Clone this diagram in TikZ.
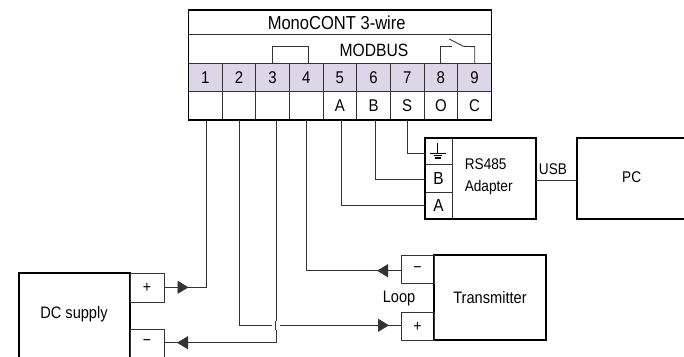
\documentclass[tikz,border=0pt]{standalone}
\usepackage{fontspec}
\setmainfont[FakeStretch=0.88]{Liberation Sans}
\usetikzlibrary{arrows.meta,decorations.markings}
\definecolor{termpurple}{HTML}{DDD6E8}
\definecolor{wiregray}{HTML}{333333}
\tikzset{
  x=1pt,y=-1pt,
  every node/.style={inner sep=0pt,outer sep=0pt},
  thickbox/.style={draw=black,line width=1.8pt,rectangle},
  cell/.style={draw=wiregray,line width=0.9pt,rectangle,minimum width=33.6pt,minimum height=28.5pt,font=\fontsize{17}{18}\selectfont},
  termcell/.style={cell,fill=termpurple},
  poscell/.style={draw=wiregray,line width=0.9pt,rectangle,minimum width=34pt,minimum height=28.5pt,font=\fontsize{16}{16}\selectfont},
  adcell/.style={draw=wiregray,line width=0.9pt,rectangle,minimum width=27.5pt,font=\fontsize{17.5}{18}\selectfont},
  wire/.style={draw=wiregray,line width=0.9pt},
  lab/.style={font=\fontsize{16.6}{17}\selectfont},
  smalllab/.style={font=\fontsize{15.5}{16}\selectfont},
  tipat/.style={postaction={decorate},decoration={markings,mark=at position #1 with {\arrow{Triangle[length=11pt,width=13pt]}}}}
}
\begin{document}
\begin{tikzpicture}
\useasboundingbox (0,0) rectangle (684,356);
% main unit
\node[draw=wiregray,line width=0.9pt,minimum width=303pt,minimum height=24.5pt,anchor=north west] (title) at (188.5,10) {};
\node[font=\fontsize{18.8}{19}\selectfont] (titlelabel) at (336.7,23) {MonoCONT 3-wire};
\node[anchor=center,font=\fontsize{17.8}{18}\selectfont] (modbus) at (374,50.5) {MODBUS};
\foreach \n/\t/\b [count=\i from 0] in {1//,2//,3//,4//,5/A/,6/B/,7/S/,8/O/,9/C/}{
  \node[termcell] (t\n) at ({205.3+33.65*\i},77.5) {\n};
  \node[cell] (b\n) at ({205.3+33.65*\i},106) {\t};
}
\node[thickbox,anchor=north west,minimum width=303pt,minimum height=110pt] (unit) at (188.5,10) {};
% bridge and relay symbols
\coordinate (bridgeL) at (272.3,46.7);
\coordinate (bridgeR) at (308.3,46.7);
\draw[wire] (bridgeL |- t3.north) -- (bridgeL) -- (bridgeR) -- (bridgeR |- t4.north);
\coordinate (swL) at (451.7,46.7);
\coordinate (swA) at (449.3,39);
\coordinate (swB) at (463.3,46.3);
\coordinate (swR) at (474.7,46.7);
\draw[wire] (440.7,63) -- (440.7,46.7) -- (swL);
\draw[wire] (swA) -- (swB);
\draw[wire] (swB) -- (swR) -- (swR |- t9.north);
% adapter
\node[thickbox,anchor=north west,minimum width=111pt,minimum height=81pt] (adapter) at (424.7,138) {};
\node[adcell,minimum height=26.5pt] (gnd) at (438.4,151.2) {};
\node[adcell,minimum height=27.7pt] (adB) at (438.4,178.2) {B};
\node[adcell,minimum height=27pt] (adA) at (438.4,205.5) {A};
\node[thickbox,anchor=north west,minimum width=111pt,minimum height=81pt] at (424.7,138) {};
\draw[line width=1pt,black] (437.7,143) -- (437.7,153) (430,153) -- (446,153) (433.5,155.8) -- (442,155.8);
\draw[line width=1.4pt,black] (435,158) -- (440.5,158);
\node[smalllab,align=left,anchor=west] (adlabel) at (464.8,176.5) {RS485\\[5.5pt]Adapter};
% PC
\node[thickbox,anchor=north west,minimum width=140pt,minimum height=81pt] (pc) at (576.7,138) {};
\node[smalllab] (pclabel) at (631.7,177) {PC};
\coordinate (usbL) at (adapter.east |- 0,180);
\draw[wire] (usbL) -- (usbL -| pc.west);
\node[smalllab] (usb) at (553,169) {USB};
% DC supply
\node[thickbox,anchor=north west,minimum width=111pt,minimum height=100pt] (dc) at (19,273) {};
\node[lab] (dclabel) at (74,314) {DC supply};
\node[poscell,anchor=north west] (dcplus) at (130,273.5) {+};
\node[poscell,anchor=north west,minimum height=40pt] (dcminus) at (130,329.5) {};
\node[font=\fontsize{16}{16}\selectfont] (dcminuslabel) at (147,343) {−};
% transmitter
\node[thickbox,anchor=north west,minimum width=112pt,minimum height=85pt,lab] (tx) at (434,255.3) {Transmitter};
\node[poscell,anchor=north east,minimum width=33pt] (txminus) at (434,255.3) {−};
\node[poscell,anchor=north east,minimum width=33pt] (txplus) at (434,312.3) {+};
\node[lab] (loop) at (399,299) {Loop};
% wires from main unit
\coordinate (w1) at (206.7,120);
\coordinate (w2) at (239,120);
\coordinate (w3) at (276,120);
\coordinate (w4) at (306.7,120);
\coordinate (wA) at (341,120);
\coordinate (wB) at (375.3,120);
\coordinate (wS) at (407,120);
\draw[wire,tipat=24.5pt] (dcplus.east |- 0,287.3) -| (w1);
\draw[wire,tipat=-13pt] (w3) |- (dcminus.east |- 0,342.7);
\draw[wire,tipat=-12pt] (w2) |- (txplus.west |- 0,325.3);
\coordinate (gapA) at (275.8,321);
\coordinate (gapB) at (275.8,329.5);
\draw[white,line width=8pt] (gapA) -- (gapB);
\draw[wire] (gapA) -- (gapB);
\draw[wire,tipat=24pt] (txminus.west |- 0,270.7) -| (w4);
\draw[wire] (wA) |- (adA.west |- 0,205);
\draw[wire] (wB) |- (adB.west |- 0,179);
\draw[wire] (wS) |- (gnd.west |- 0,153);
\end{tikzpicture}
\end{document}
